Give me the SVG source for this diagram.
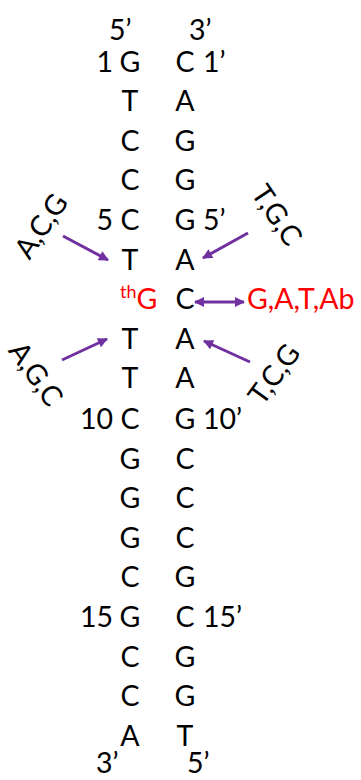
<svg xmlns="http://www.w3.org/2000/svg" width="361" height="780" viewBox="0 0 361 780">
<style>
text{font-family:Lato,"Open Sans","Liberation Sans",sans-serif;font-size:28.5px;fill:#000}
.b{text-anchor:middle}
.nl{text-anchor:end}
.r{fill:#FF0000}
.ar{stroke:#7030A0;stroke-width:3;fill:none}
</style>
<defs>
<marker id="ah" viewBox="0 0 10 10" refX="9" refY="5" markerWidth="11" markerHeight="10" markerUnits="userSpaceOnUse" orient="auto-start-reverse">
<path d="M0,0 L10,5 L0,10 z" fill="#7030A0"/>
</marker>
</defs>
<g id="ends">
<text x="109" y="40">5’</text>
<text x="189" y="40">3’</text>
<text x="96" y="773">3’</text>
<text x="187" y="773">5’</text>
</g>
<g id="numbers">
<text class="nl" x="113" y="72">1</text>
<text class="nl" x="113" y="230">5</text>
<text class="nl" x="113" y="429">10</text>
<text class="nl" x="113" y="627">15</text>
<text x="203" y="72">1’</text>
<text x="203" y="230">5’</text>
<text x="203" y="429">10’</text>
<text x="203" y="627">15’</text>
</g>
<g id="strand-top">
<g id="t1"><text class="b" x="130" y="72">G</text></g>
<g id="t2"><text class="b" x="130" y="111">T</text></g>
<g id="t3"><text class="b" x="130" y="151">C</text></g>
<g id="t4"><text class="b" x="130" y="190">C</text></g>
<g id="t5"><text class="b" x="130" y="230">C</text></g>
<g id="t6"><text class="b" x="130" y="270">T</text></g>
<g id="t7"><text class="r" x="120" y="309"><tspan font-size="18" dy="-11">th</tspan><tspan dy="11">G</tspan></text></g>
<g id="t8"><text class="b" x="130" y="349">T</text></g>
<g id="t9"><text class="b" x="130" y="388">T</text></g>
<g id="t10"><text class="b" x="130" y="429">C</text></g>
<g id="t11"><text class="b" x="130" y="469">G</text></g>
<g id="t12"><text class="b" x="130" y="508">G</text></g>
<g id="t13"><text class="b" x="130" y="548">G</text></g>
<g id="t14"><text class="b" x="130" y="587">C</text></g>
<g id="t15"><text class="b" x="130" y="627">G</text></g>
<g id="t16"><text class="b" x="130" y="667">C</text></g>
<g id="t17"><text class="b" x="130" y="706">C</text></g>
<g id="t18"><text class="b" x="130" y="746">A</text></g>
</g>
<g id="strand-bottom">
<g id="b1"><text class="b" x="185" y="72">C</text></g>
<g id="b2"><text class="b" x="185" y="111">A</text></g>
<g id="b3"><text class="b" x="185" y="151">G</text></g>
<g id="b4"><text class="b" x="185" y="190">G</text></g>
<g id="b5"><text class="b" x="185" y="230">G</text></g>
<g id="b6"><text class="b" x="185" y="270">A</text></g>
<g id="b7"><text class="b" x="185" y="309">C</text></g>
<g id="b8"><text class="b" x="185" y="349">A</text></g>
<g id="b9"><text class="b" x="185" y="388">A</text></g>
<g id="b10"><text class="b" x="185" y="429">G</text></g>
<g id="b11"><text class="b" x="185" y="469">C</text></g>
<g id="b12"><text class="b" x="185" y="508">C</text></g>
<g id="b13"><text class="b" x="185" y="548">C</text></g>
<g id="b14"><text class="b" x="185" y="587">G</text></g>
<g id="b15"><text class="b" x="185" y="627">C</text></g>
<g id="b16"><text class="b" x="185" y="667">G</text></g>
<g id="b17"><text class="b" x="185" y="706">G</text></g>
<g id="b18"><text class="b" x="185" y="746">T</text></g>
</g>
<g id="label-acg"><text class="b" transform="translate(41,226) rotate(-56)" y="10">A,C,G</text></g>
<g id="label-tgc"><text class="b" transform="translate(277,215) rotate(56)" y="10">T,G,C</text></g>
<g id="label-agc"><text class="b" transform="translate(36,374) rotate(55)" y="10">A,G,C</text></g>
<g id="label-tcg"><text class="b" transform="translate(274,374) rotate(-54)" y="10">T,C,G</text></g>
<g id="label-gata"><text class="r" x="247" y="309">G,A,T,Ab</text></g>
<g id="connectors">
<line class="ar" x1="63" y1="236" x2="108" y2="260" marker-end="url(#ah)"/>
<line class="ar" x1="248" y1="233" x2="203" y2="258" marker-end="url(#ah)"/>
<line class="ar" x1="62" y1="360" x2="107" y2="339" marker-end="url(#ah)"/>
<line class="ar" x1="250" y1="362" x2="204" y2="341" marker-end="url(#ah)"/>
<line class="ar" x1="195" y1="302" x2="244" y2="302" marker-start="url(#ah)" marker-end="url(#ah)"/>
</g>
</svg>
